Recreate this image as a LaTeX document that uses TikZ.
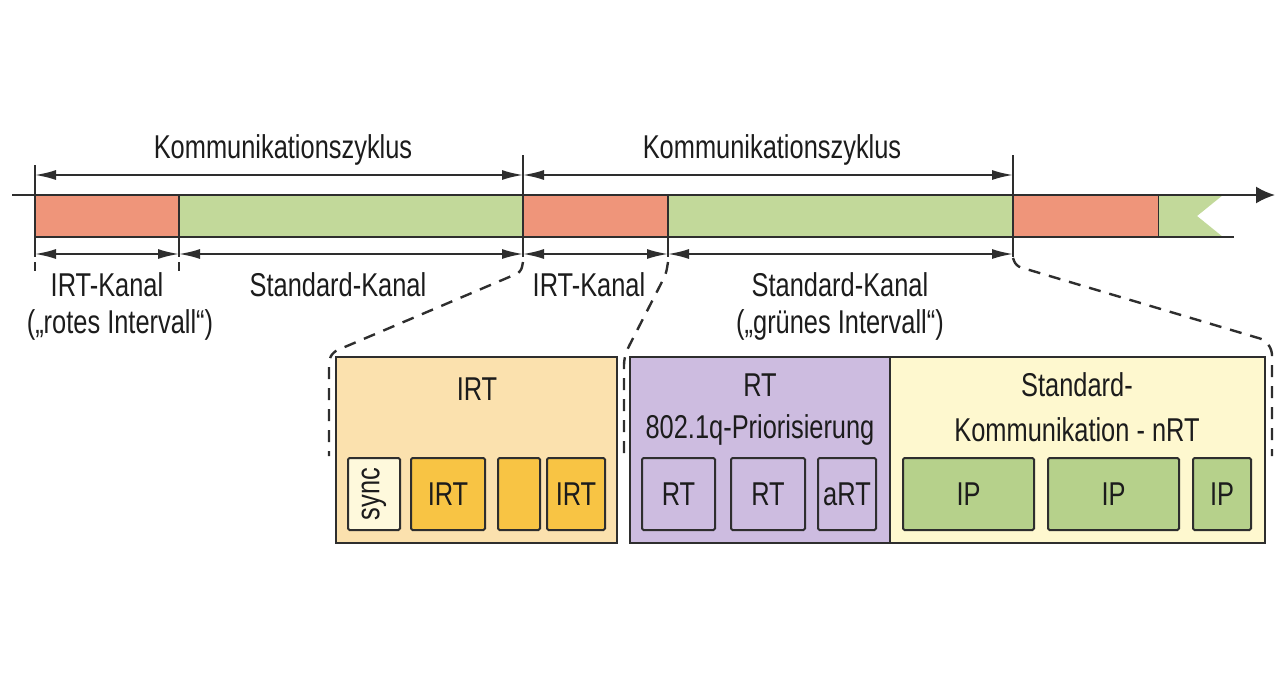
\documentclass[tikz,border=0pt]{standalone}
\usepackage{fontspec}
\setmainfont{Liberation Sans}[FakeStretch=0.77]
\usetikzlibrary{arrows.meta}
\definecolor{redbar}{HTML}{EF957A}
\definecolor{greenbar}{HTML}{C2D99A}
\definecolor{irtbg}{HTML}{FBE1AE}
\definecolor{irtbox}{HTML}{F8C444}
\definecolor{syncbox}{HTML}{FEF9DC}
\definecolor{rtbg}{HTML}{CDBCE0}
\definecolor{stdbg}{HTML}{FEF8CF}
\definecolor{ipbox}{HTML}{B6D18B}
\definecolor{ink}{HTML}{2E2E2E}
\definecolor{txt}{HTML}{1C1C1C}
\tikzset{
  lbl/.style={font=\fontsize{33}{36}\selectfont, text=txt, inner sep=0pt, align=center},
  seg/.style={draw=ink, line width=1.8pt, inner sep=0pt, minimum height=42pt},
  bigbox/.style={draw=ink, line width=2pt, inner sep=0pt, minimum height=186pt},
  smallbox/.style={draw=ink, line width=2pt, inner sep=0pt, minimum height=72pt, rounded corners=1.5pt},
  dimline/.style={draw=ink, line width=1.8pt, {Latex[length=21pt,width=10pt]}-{Latex[length=21pt,width=10pt]}},
  tick/.style={draw=ink, line width=1.8pt},
  zoomline/.style={draw=ink, line width=2.4pt, dash pattern=on 12pt off 9pt, rounded corners=5pt}
}
\begin{document}
\begin{tikzpicture}[x=1pt,y=-1pt]
\useasboundingbox (0,0) rectangle (1280,686);
% bar segments
\node[seg, fill=redbar, minimum width=144pt] (r1) at (107,216) {};
\node[seg, fill=greenbar, minimum width=344pt] (g1) at (351,216) {};
\node[seg, fill=redbar, minimum width=145pt] (r2) at (595.5,216) {};
\node[seg, fill=greenbar, minimum width=345pt] (g2) at (840.5,216) {};
\node[seg, fill=redbar, minimum width=146pt] (r3) at (1086,216) {};
% last green piece with notch
\coordinate (n1) at (1159,195);
\coordinate (n2) at (1223,195);
\coordinate (n3) at (1197,216);
\coordinate (n4) at (1223,237);
\coordinate (n5) at (1159,237);
\fill[greenbar] (n1) -- (n2) -- (n3) -- (n4) -- (n5) -- cycle;
\coordinate (b1) at (1159,237);
\coordinate (b2) at (1234,237);
\draw[ink, line width=1.8pt] (b1) -- (b2);
% time axis
\coordinate (ax0) at (12,195);
\coordinate (ax1) at (1275,195);
\draw[ink, line width=2pt, -{Latex[length=19pt,width=17pt]}] (ax0) -- (ax1);
% ticks
\coordinate (t1a) at (35,165);  \coordinate (t1b) at (35,257);
\coordinate (t2a) at (179,237); \coordinate (t2b) at (179,257);
\coordinate (t3a) at (523,155); \coordinate (t3b) at (523,257);
\coordinate (t4a) at (668,237); \coordinate (t4b) at (668,257);
\coordinate (t5a) at (1013,155); \coordinate (t5b) at (1013,257);
\foreach \a/\b in {t1a/t1b,t2a/t2b,t3a/t3b,t4a/t4b,t5a/t5b} \draw[tick] (\a) -- (\b);
% dimension arrows
\coordinate (u1) at (35,175); \coordinate (u2) at (523,175); \coordinate (u3) at (1013,175);
\draw[dimline] (u1) -- (u2);
\draw[dimline] (u2) -- (u3);
\coordinate (l1) at (35,254); \coordinate (l2) at (179,254); \coordinate (l3) at (523,254);
\coordinate (l4) at (668,254); \coordinate (l5) at (1013,254);
\draw[dimline] (l1) -- (l2);
\draw[dimline] (l2) -- (l3);
\draw[dimline] (l3) -- (l4);
\draw[dimline] (l4) -- (l5);
% small extension marks
\coordinate (m1a) at (35,262); \coordinate (m1b) at (35,271);
\coordinate (m2a) at (179,262); \coordinate (m2b) at (179,271);
\draw[ink, line width=2.2pt] (m1a) -- (m1b);
\draw[ink, line width=2.2pt] (m2a) -- (m2b);
% labels
\node[lbl] (k1) at (283,150) {Kommunikationszyklus};
\node[lbl] (k2) at (772,150) {Kommunikationszyklus};
\node[lbl] (c1) at (107,285) {IRT-Kanal};
\node[lbl] (c1b) at (120,325) {(„rotes Intervall“)};
\node[lbl] (c2) at (338,285) {Standard-Kanal};
\node[lbl] (c3) at (589,285) {IRT-Kanal};
\node[lbl] (c4) at (840,285) {Standard-Kanal};
\node[lbl] (c4b) at (840,325) {(„grünes Intervall“)};
% lower boxes
\node[bigbox, fill=irtbg, minimum width=281pt] (irt) at (476.5,450) {};
\node[bigbox, fill=rtbg, minimum width=260pt] (rt) at (760,450) {};
\node[bigbox, fill=stdbg, minimum width=375pt] (std) at (1077.5,450) {};
\node[lbl] at (477,389) {IRT};
\node[lbl] at (760,385) {RT};
\node[lbl] at (760,430) {802.1q-Priorisierung};
\node[lbl] at (1077,385) {Standard-};
\node[lbl] at (1077,430) {Kommunikation - nRT};
% small boxes
\node[smallbox, fill=syncbox, minimum width=52pt] (sync) at (374,494) {};
\node[lbl, rotate=90] at (sync) {sync};
\node[smallbox, fill=irtbox, minimum width=74pt] (i1) at (448,494) {};
\node[lbl] at (i1) {IRT};
\node[smallbox, fill=irtbox, minimum width=42pt] (i2) at (519,494) {};
\node[smallbox, fill=irtbox, minimum width=58pt] (i3) at (576,494) {};
\node[lbl] at (i3) {IRT};
\node[smallbox, fill=rtbg, minimum width=73pt] (rt1) at (678.5,494) {};
\node[lbl] at (rt1) {RT};
\node[smallbox, fill=rtbg, minimum width=74pt] (rt2) at (768,494) {};
\node[lbl] at (rt2) {RT};
\node[smallbox, fill=rtbg, minimum width=58pt] (art) at (847,494) {};
\node[lbl] at (art) {aRT};
\node[smallbox, fill=ipbox, minimum width=131pt] (ip1) at (968.5,494) {};
\node[lbl] at (ip1) {IP};
\node[smallbox, fill=ipbox, minimum width=131pt] (ip2) at (1113.5,494) {};
\node[lbl] at (ip2) {IP};
\node[smallbox, fill=ipbox, minimum width=58pt] (ip3) at (1222,494) {};
\node[lbl] at (ip3) {IP};
% zoom dashed lines
\coordinate (z1a) at (523,262); \coordinate (z1b) at (521,272);
\coordinate (z1c) at (333,352); \coordinate (z1d) at (329,360); \coordinate (z1e) at (329,456);
\draw[zoomline] (z1a) -- (z1b) -- (z1c) -- (z1d) -- (z1e);
\coordinate (z2a) at (668,262); \coordinate (z2b) at (666,274);
\coordinate (z2c) at (627,350); \coordinate (z2d) at (624,360); \coordinate (z2e) at (624,456);
\draw[zoomline] (z2a) -- (z2b) -- (z2c) -- (z2d) -- (z2e);
\coordinate (z3a) at (1013,258); \coordinate (z3b) at (1016,266);
\coordinate (z3c) at (1265,340); \coordinate (z3d) at (1272,350); \coordinate (z3e) at (1272,456);
\draw[zoomline] (z3a) -- (z3b) -- (z3c) -- (z3d) -- (z3e);
\end{tikzpicture}
\end{document}
